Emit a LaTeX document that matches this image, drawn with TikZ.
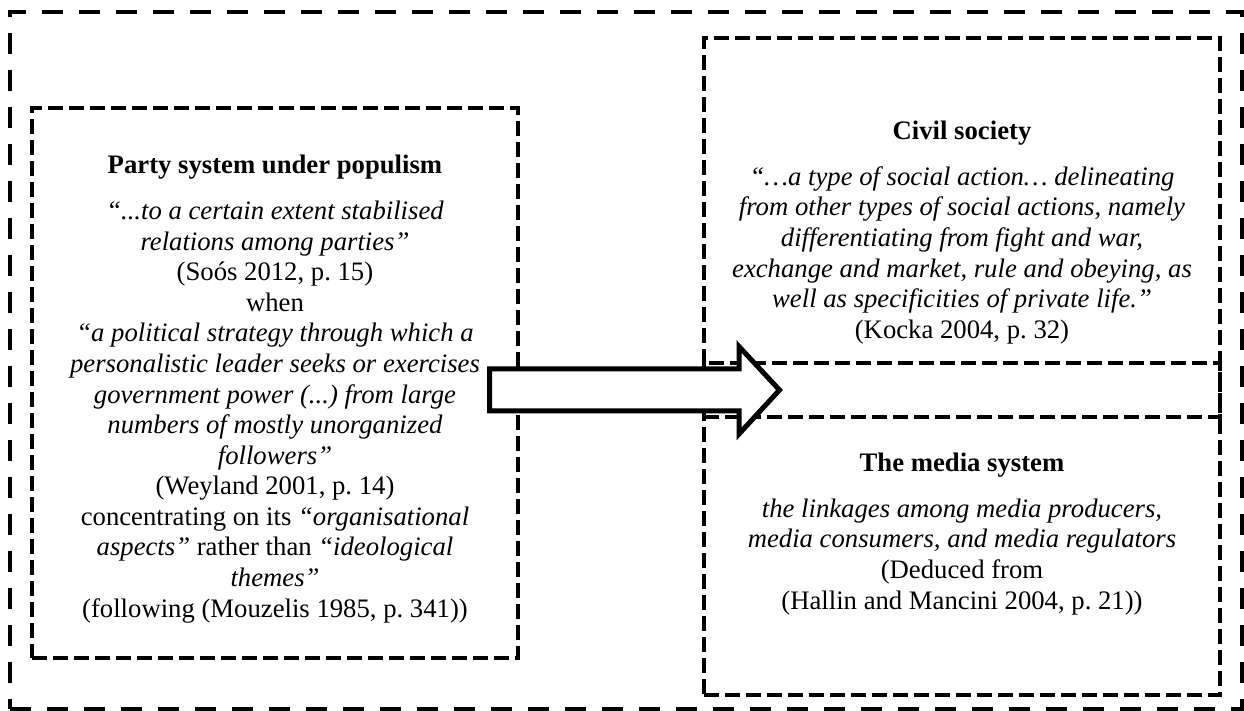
\documentclass[tikz,border=0pt]{standalone}
\usepackage{fontspec}
\setmainfont{Liberation Serif}
\usetikzlibrary{calc, positioning}
\frenchspacing

\begin{document}
\begin{tikzpicture}[x=0.5pt, y=-0.5pt,
    outerframe/.style={draw, rectangle, line width=2.25pt, dash pattern=on 10.5pt off 8pt},
    areabox/.style={draw, rectangle, line width=2pt, dash pattern=on 7.5pt off 3pt, inner sep=0pt},
    areatext/.style={align=center, anchor=north, inner sep=0pt, font=\fontsize{13.35}{15.3}\selectfont},
    blockarrow/.style={draw, fill=white, line width=2.5pt}
  ]
  \useasboundingbox (0,0) rectangle (1244,711);
  % frames
  \node[outerframe, minimum width=616pt, minimum height=348.5pt] (frame) at (626,360.5) {};
  \node[areabox, minimum width=243pt, minimum height=275pt] (party) at (275,383) {};
  \node[areabox, minimum width=258pt, minimum height=189.5pt] (civil) at (962,227.5) {};
  \node[areabox, minimum width=258pt, minimum height=166pt] (media) at (962,529) {};
  % texts
  \node[areatext] (partytext) at (275,153) {\rule{0pt}{10pt}\textbf{Party system under populism}\\[7.7pt]
    \textit{“...to a certain extent stabilised}\\
    \textit{relations among parties”}\\
    (Soós 2012, p. 15)\\
    when\\
    \textit{“a political strategy through which a}\\
    \textit{personalistic leader seeks or exercises}\\
    \textit{government power (...) from large}\\
    \textit{numbers of mostly unorganized}\\
    \textit{followers”}\\
    (Weyland 2001, p. 14)\\
    concentrating on its \textit{“organisational}\\
    \textit{aspects”} rather than \textit{“ideological}\\
    \textit{themes”}\\
    (following (Mouzelis 1985, p. 341))};
  \node[areatext] (civiltext) at (962,119) {\rule{0pt}{10pt}\textbf{Civil society}\\[7.7pt]
    \textit{“…a type of social action… delineating}\\
    \textit{from other types of social actions, namely}\\
    \textit{differentiating from fight and war,}\\
    \textit{exchange and market, rule and obeying, as}\\
    \textit{well as specificities of private life.”}\\
    (Kocka 2004, p. 32)};
  \node[areatext] (mediatext) at (962,451) {\rule{0pt}{10pt}\textbf{The media system}\\[7.7pt]
    \textit{the linkages among media producers,}\\
    \textit{media consumers, and media regulators}\\
    (Deduced from\\
    (Hallin and Mancini 2004, p. 21))};
  % arrow from party system to civil society / media
  \coordinate (tail) at (489.5,390);
  \coordinate (tip) at (779.5,390);
  \draw[blockarrow] ($(tail)+(0,-21)$) -- ++(249.5,0) -- ++(0,-22.5) -- (tip)
    -- ++(-40.5,44) -- ++(0,-23) -- ($(tail)+(0,21)$) -- cycle;
\end{tikzpicture}
\end{document}
